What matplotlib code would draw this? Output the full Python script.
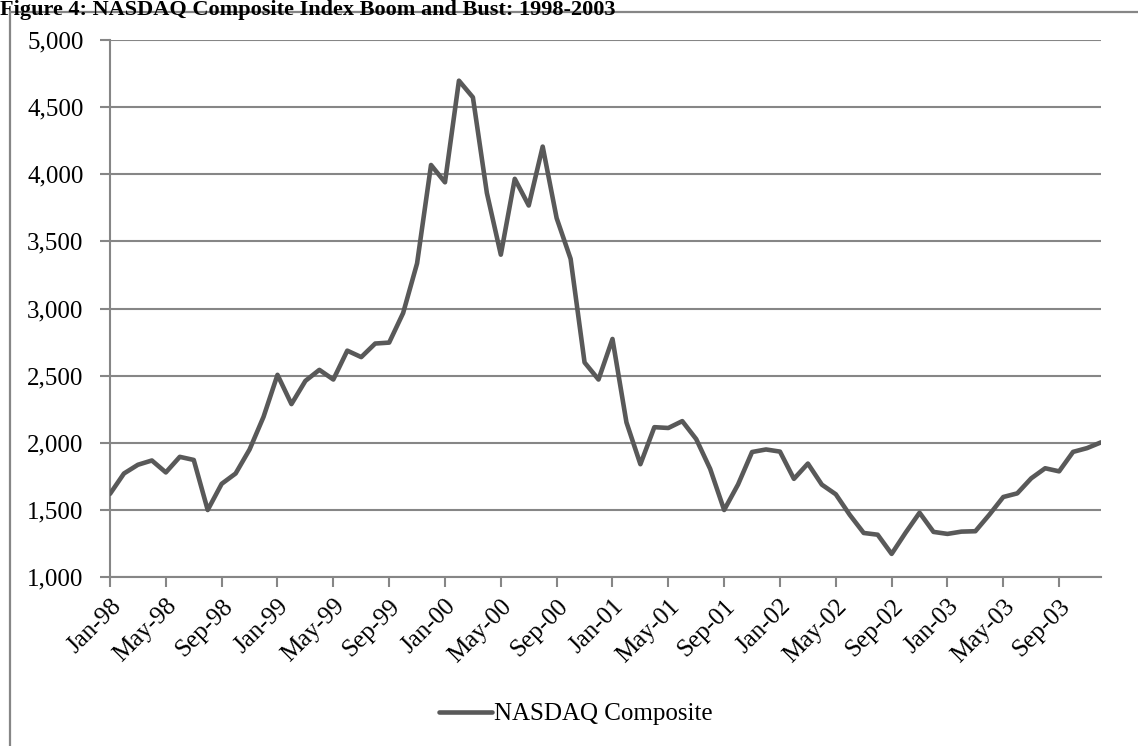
import matplotlib
matplotlib.use("Agg")
import matplotlib.pyplot as plt
from matplotlib.patches import Rectangle
from matplotlib.ticker import FuncFormatter, FixedLocator

# Monthly closes of the NASDAQ Composite, Jan 1998 - Dec 2003
months = [f"{m}-{y:02d}" for y in (98, 99, 0, 1, 2, 3)
          for m in ("Jan", "Feb", "Mar", "Apr", "May", "Jun",
                    "Jul", "Aug", "Sep", "Oct", "Nov", "Dec")]
nasdaq_1998 = [1619, 1771, 1836, 1868, 1779, 1895, 1872, 1499, 1694, 1771, 1950, 2193]
nasdaq_1999 = [2506, 2288, 2461, 2543, 2471, 2686, 2638, 2739, 2746, 2966, 3336, 4069]
nasdaq_2000 = [3940, 4697, 4573, 3861, 3401, 3966, 3767, 4206, 3673, 3370, 2598, 2471]
nasdaq_2001 = [2773, 2152, 1840, 2116, 2110, 2161, 2027, 1805, 1499, 1690, 1931, 1950]
nasdaq_2002 = [1934, 1731, 1845, 1688, 1616, 1463, 1328, 1315, 1172, 1330, 1479, 1336]
nasdaq_2003 = [1321, 1338, 1341, 1464, 1596, 1623, 1735, 1810, 1787, 1932, 1960, 2003]
values = nasdaq_1998 + nasdaq_1999 + nasdaq_2000 + nasdaq_2001 + nasdaq_2002 + nasdaq_2003

title = "Figure 4: NASDAQ Composite Index Boom and Bust: 1998-2003"
series_name = "NASDAQ Composite"

plt.rcParams["font.family"] = ["Liberation Serif", "DejaVu Serif"]

W, H = 1138, 746
fig = plt.figure(figsize=(W / 100, H / 100), dpi=100)

def fx(px):
    return px / W

def fy(py):
    return 1 - py / H

grid_col = "#868686"
line_col = "#595959"

# Outer chart frame (runs past the right and bottom edges of the figure)
fig.patches.append(Rectangle((fx(10), fy(H + 20)), fx(W + 20 - 10), fy(12) - fy(H + 20),
                             transform=fig.transFigure, fill=False,
                             edgecolor=grid_col, linewidth=1.6, zorder=0))

fig.text(0.0, fy(0), title, fontsize=16, fontweight="bold",
         ha="left", va="top", color="black")

ax = fig.add_axes([fx(110), fy(577), fx(1101) - fx(110), fy(40) - fy(577)])

x = list(range(len(values)))
ax.plot(x, values, color=line_col, linewidth=3.3, solid_joinstyle="round",
        solid_capstyle="round", label=series_name, zorder=3)

ax.set_xlim(0, len(values) - 1)
ax.set_ylim(1000, 5000)
ax.set_yticks(range(1000, 5001, 500))
ax.yaxis.set_major_formatter(FuncFormatter(lambda v, p: f"{int(v):,}"))
ax.grid(axis="y", color=grid_col, linewidth=1.5)
ax.set_axisbelow(True)

tick_pos = list(range(0, len(values), 4))
ax.xaxis.set_major_locator(FixedLocator(tick_pos))
ax.set_xticklabels([months[i] for i in tick_pos], rotation=45, ha="right",
                   rotation_mode="anchor", fontsize=18)
ax.tick_params(axis="x", length=7, width=1.5, color=grid_col, pad=6)
ax.tick_params(axis="y", length=7, width=1.5, color=grid_col, labelsize=18, pad=12)

for side in ("top", "right"):
    ax.spines[side].set_visible(False)
for side in ("left", "bottom"):
    ax.spines[side].set_color(grid_col)
    ax.spines[side].set_linewidth(1.5)

leg = fig.legend(loc="center", bbox_to_anchor=(fx(576), fy(714)), frameon=False,
                 fontsize=18, handlelength=2.1, handletextpad=0.1)

fig.savefig("out.png", dpi=100)
